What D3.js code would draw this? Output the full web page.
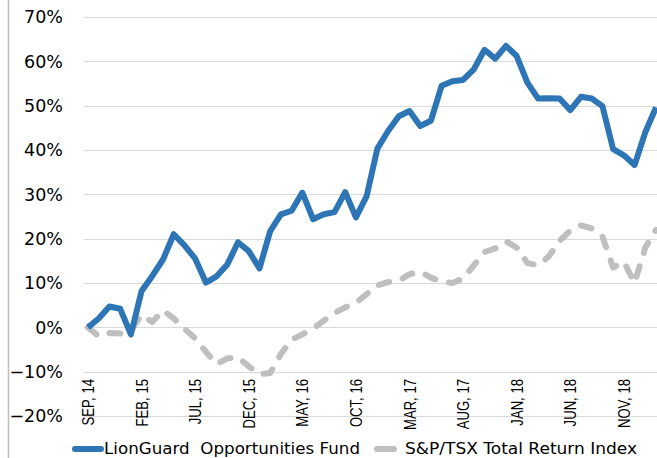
<!DOCTYPE html>
<html>
<head>
<meta charset="utf-8">
<script src="https://cdn.jsdelivr.net/npm/d3@7"></script>
<style>
  body { margin: 0; background: #fff; }
  svg { display: block; }
</style>
</head>
<body>
<div id="chart"></div>
<script>
// months, Sep 2014 .. Feb 2019
const months = [
  "SEP, 14","OCT, 14","NOV, 14","DEC, 14","JAN, 15","FEB, 15","MAR, 15","APR, 15","MAY, 15","JUN, 15",
  "JUL, 15","AUG, 15","SEP, 15","OCT, 15","NOV, 15","DEC, 15","JAN, 16","FEB, 16","MAR, 16","APR, 16",
  "MAY, 16","JUN, 16","JUL, 16","AUG, 16","SEP, 16","OCT, 16","NOV, 16","DEC, 16","JAN, 17","FEB, 17",
  "MAR, 17","APR, 17","MAY, 17","JUN, 17","JUL, 17","AUG, 17","SEP, 17","OCT, 17","NOV, 17","DEC, 17",
  "JAN, 18","FEB, 18","MAR, 18","APR, 18","MAY, 18","JUN, 18","JUL, 18","AUG, 18","SEP, 18","OCT, 18",
  "NOV, 18","DEC, 18","JAN, 19","FEB, 19"
];
const tickLabels = ["SEP, 14","FEB, 15","JUL, 15","DEC, 15","MAY, 16","OCT, 16","MAR, 17","AUG, 17","JAN, 18","JUN, 18","NOV, 18"];
const yTicks = [-0.2, -0.1, 0, 0.1, 0.2, 0.3, 0.4, 0.5, 0.6, 0.7];

// cumulative return, %
const fund = [
  0, 2, 4.7, 4.2, -1.6, 8.2, 11.6, 15.3, 21, 18.5,
  15.5, 10.1, 11.5, 14.2, 19.2, 17.2, 13.3, 21.7, 25.5, 26.3,
  30.4, 24.4, 25.5, 26, 30.5, 24.8, 29.6, 40.3, 44.3, 47.6,
  48.8, 45.4, 46.6, 54.5, 55.5, 55.8, 58.2, 62.6, 60.6, 63.5,
  61.2, 55.2, 51.6, 51.7, 51.6, 49, 52, 51.6, 49.9, 40.2,
  38.8, 36.6, 44, 49.6
];
const index = [
  0, -2, -1.3, -1.4, -0.8, 2.8, 1.2, 3.8, 2, -0.3,
  -2.5, -5.5, -8.3, -7, -6.8, -8.8, -10.6, -10.3, -6, -2.8,
  -1.6, -0.3, 1.5, 3.2, 4.5, 5.5, 7.5, 9.5, 10.2, 10.5,
  12, 12.5, 11.2, 10.3, 10, 11, 14, 17, 17.8, 19.4,
  18, 14.5, 14, 16, 19.5, 21.8, 23, 22.3, 20.5, 13.5,
  14.8, 10, 18, 22
];

const seriesNames = ["LionGuard  Opportunities Fund", "S&P/TSX Total Return Index"];
const colors = ["#2E75B6", "#BFBFBF"];

const width = 657, height = 458;

const svg = d3.select("#chart")
  .append("svg")
    .attr("width", width)
    .attr("height", height);

// left frame line
svg.append("line")
  .attr("x1", 8.5).attr("x2", 8.5)
  .attr("y1", 0).attr("y2", height)
  .attr("stroke", "#bfbfbf")
  .attr("stroke-width", 1.5);

const x = d3.scalePoint()
  .domain(months)
  .range([88, 656]);

const y = d3.scaleLinear()
  .domain([-0.2, 0.7])
  .range([416, 17]);

// gridlines
svg.append("g")
  .selectAll("line")
  .data(yTicks)
  .join("line")
    .attr("x1", 84).attr("x2", width)
    .attr("y1", d => Math.round(y(d)) + 0.5)
    .attr("y2", d => Math.round(y(d)) + 0.5)
    .attr("stroke", "#d9d9d9")
    .attr("stroke-width", 1);

// y labels
svg.append("g")
  .selectAll("text")
  .data(yTicks)
  .join("text")
    .attr("x", 63)
    .attr("y", d => y(d))
    .attr("dy", "0.36em")
    .attr("text-anchor", "end")
    .style("font-family", "DejaVu Sans, Verdana, sans-serif")
    .style("font-size", "17.5px")
    .style("fill", "#000")
    .text(d3.format(".0%"));

// x labels (rotated, condensed)
svg.append("g")
  .selectAll("text")
  .data(tickLabels)
  .join("text")
    .attr("transform", d => `translate(${x(d) + 6},379) rotate(-90) scale(0.82,1)`)
    .attr("text-anchor", "end")
    .style("font-family", "Liberation Sans, Arial, sans-serif")
    .style("font-size", "16px")
    .style("fill", "#000")
    .text(d => d);

const line = d3.line()
  .x((d, i) => x(months[i]))
  .y(d => y(d / 100));

svg.append("path")
  .datum(index)
  .attr("d", line)
  .attr("fill", "none")
  .attr("stroke", colors[1])
  .attr("stroke-width", 6)
  .attr("stroke-dasharray", "11,14")
  .attr("stroke-linecap", "round")
  .attr("stroke-linejoin", "round");

svg.append("path")
  .datum(fund)
  .attr("d", line)
  .attr("fill", "none")
  .attr("stroke", colors[0])
  .attr("stroke-width", 6)
  .attr("stroke-linejoin", "round");

// legend
const legendY = 449;
const legend = [
  {name: seriesNames[0], color: colors[0], x1: 75, x2: 101, tx: 104, len: 256},
  {name: seriesNames[1], color: colors[1], x1: 377, x2: 394, tx: 405, len: 232}
];
const lg = svg.append("g")
  .selectAll("g")
  .data(legend)
  .join("g");
lg.append("line")
  .attr("x1", d => d.x1).attr("x2", d => d.x2)
  .attr("y1", legendY).attr("y2", legendY)
  .attr("stroke", d => d.color)
  .attr("stroke-width", 6)
  .attr("stroke-linecap", "round");
lg.append("text")
  .attr("x", d => d.tx)
  .attr("y", legendY)
  .attr("dy", "0.36em")
  .attr("textLength", d => d.len)
  .attr("lengthAdjust", "spacingAndGlyphs")
  .style("white-space", "pre")
  .style("font-family", "DejaVu Sans, Verdana, sans-serif")
  .style("font-size", "15px")
  .style("fill", "#000")
  .text(d => d.name);
</script>
</body>
</html>
